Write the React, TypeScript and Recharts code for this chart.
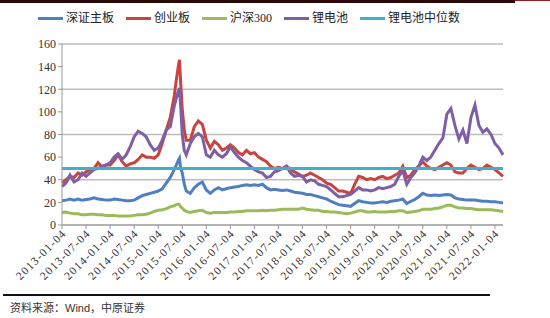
import { CartesianGrid, Line, LineChart, ReferenceLine, XAxis, YAxis } from 'recharts';

// 交易日（月度采样，2015年股灾前后加密）
const dates = [
  '2013-01-04', '2013-02-04', '2013-03-04', '2013-04-04', '2013-05-04', '2013-06-04',
  '2013-07-04', '2013-08-04', '2013-09-04', '2013-10-04', '2013-11-04', '2013-12-04',
  '2014-01-04', '2014-02-04', '2014-03-04', '2014-04-04', '2014-05-04', '2014-06-04',
  '2014-07-04', '2014-08-04', '2014-09-04', '2014-10-04', '2014-11-04', '2014-12-04',
  '2015-01-04', '2015-02-04', '2015-03-04', '2015-04-04', '2015-05-04', '2015-05-19',
  '2015-06-04', '2015-06-13', '2015-06-22', '2015-07-04', '2015-07-19', '2015-08-04',
  '2015-09-04', '2015-10-04', '2015-11-04', '2015-12-04',
  '2016-01-04', '2016-02-04', '2016-03-04', '2016-04-04', '2016-05-04', '2016-06-04',
  '2016-07-04', '2016-08-04', '2016-09-04', '2016-10-04', '2016-11-04', '2016-12-04',
  '2017-01-04', '2017-02-04', '2017-03-04', '2017-04-04', '2017-05-04', '2017-06-04',
  '2017-07-04', '2017-08-04', '2017-09-04', '2017-10-04', '2017-11-04', '2017-12-04',
  '2018-01-04', '2018-02-04', '2018-03-04', '2018-04-04', '2018-05-04', '2018-06-04',
  '2018-07-04', '2018-08-04', '2018-09-04', '2018-10-04', '2018-11-04', '2018-12-04',
  '2019-01-04', '2019-02-04', '2019-03-04', '2019-04-04', '2019-05-04', '2019-06-04',
  '2019-07-04', '2019-08-04', '2019-09-04', '2019-10-04', '2019-11-04', '2019-12-04',
  '2020-01-04', '2020-02-04', '2020-03-04', '2020-04-04', '2020-05-04', '2020-06-04',
  '2020-07-04', '2020-08-04', '2020-09-04', '2020-10-04', '2020-11-04', '2020-12-04',
  '2021-01-04', '2021-02-04', '2021-03-04', '2021-04-04', '2021-05-04', '2021-06-04',
  '2021-07-04', '2021-08-04', '2021-09-04', '2021-10-04', '2021-11-04', '2021-12-04',
  '2022-01-04', '2022-02-04', '2022-03-04',
];

const shenzhenMain = [
  21.5, 22, 23, 22, 23, 22, 22.5, 23, 24, 23, 22.5, 22,
  22, 23, 22.5, 22, 21.5, 21.5, 22, 24, 26, 27, 28, 29,
  30, 32, 37, 42, 49, 53, 57, 59, 50, 46, 36, 30, 28, 33, 36, 38,
  31, 28, 31, 33, 31, 32, 33, 33.5, 34, 35, 35.5, 35,
  35.5, 35, 36, 33, 31, 31.5, 31, 30.5, 31, 30, 29, 28.5,
  28, 27, 27, 26, 25, 24, 23, 21, 19.5, 18, 17.5, 17,
  16.5, 19, 21.5, 20.5, 20, 19.5, 19.5, 20, 20.5, 20, 21, 21.5,
  22, 23, 19, 21, 22.5, 25, 28, 26.5, 26, 26.5, 26, 26.5,
  27, 26.5, 24, 23, 22.5, 22, 22, 22, 21.5, 21, 21, 20.5,
  20.5, 20, 19.5,
];

const chinext = [
  37, 40, 43, 42, 46, 44, 47, 49, 50, 55, 51, 53,
  53, 57, 62, 56, 52, 54, 55, 58, 62, 60, 60, 59,
  62, 72, 84, 95, 114, 128, 140, 146, 126, 102, 84, 75, 75, 87, 92, 89,
  75, 68, 74, 71, 66, 68, 71, 68, 64, 62, 66, 63,
  64, 60, 58, 56, 52, 50, 51, 50, 52, 49, 47, 45,
  43, 44, 46, 44, 42, 40, 37, 36, 33, 30, 30, 29,
  28, 36, 43, 42, 40, 41, 40, 42, 43, 41, 42, 44,
  46, 52, 42, 44, 49, 52, 56, 52, 50, 49, 51, 53,
  55, 53, 47, 46, 46, 50, 53, 51, 49, 50, 53, 51,
  49, 46, 43,
];

const csi300 = [
  11, 11.5, 10.5, 10, 10, 9, 9, 9.5, 9.5, 9, 9, 8.5,
  8.5, 8.5, 8, 8, 8, 8, 8.5, 9, 9, 9.5, 10.5, 12,
  13, 13.5, 14.5, 16, 17, 18, 18.5, 18, 16, 15, 13, 12, 11, 12, 12.5, 13,
  11, 10.5, 11, 11, 11, 11, 11.5, 11.5, 12, 12, 12.5, 12.5,
  12.5, 12.5, 13, 12.5, 13, 13, 13.5, 14, 14, 14, 14, 14,
  15, 14, 13.5, 13, 13, 12, 12, 11.5, 11.5, 11, 10.5, 10,
  10.5, 11.5, 12.5, 12.5, 11.5, 11.5, 12, 11.5, 11.5, 11.5, 12, 12,
  12.5, 12.5, 11, 11.5, 12, 12.5, 14, 14, 14, 14.5, 15, 16,
  17.5, 17.5, 16, 15, 15, 14.5, 14.5, 14, 13.5, 13.5, 13.5, 13.5,
  13, 12.5, 12,
];

const lithium = [
  34, 37, 44, 38, 40, 46, 43, 46, 49, 50, 52, 53,
  55, 60, 63, 58, 62, 69, 78, 83, 81, 78, 71, 66,
  68, 75, 84, 87, 105, 112, 118, 121, 105, 80, 66, 62, 72, 78, 81, 78,
  62, 60, 66, 62, 60, 63, 69, 64, 60, 57, 55, 52,
  49, 47, 46, 42, 43, 47, 48, 50, 52, 46, 43, 44,
  43, 38, 40, 39, 36, 35, 34, 31, 28, 25, 25, 26,
  27, 30, 33, 31, 31, 30, 31, 33, 32, 33, 34, 36,
  43, 48, 36, 42, 46, 52, 60, 57, 60, 66, 72, 77,
  98, 103, 88, 76, 84, 72, 95, 106, 88, 82, 85, 80,
  72, 68, 62,
];

const lithiumMedian = 50;

const tickDates = [
  '2013-01-04', '2013-07-04', '2014-01-04', '2014-07-04', '2015-01-04', '2015-07-04',
  '2016-01-04', '2016-07-04', '2017-01-04', '2017-07-04', '2018-01-04', '2018-07-04',
  '2019-01-04', '2019-07-04', '2020-01-04', '2020-07-04', '2021-01-04', '2021-07-04',
  '2022-01-04',
];

const yTicks = [0, 20, 40, 60, 80, 100, 120, 140, 160];

const SERIES = [
  { key: 'shenzhenMain', name: '深证主板', color: '#4F7FC0' },
  { key: 'chinext', name: '创业板', color: '#C8443F' },
  { key: 'csi300', name: '沪深300', color: '#9BBB59' },
  { key: 'lithium', name: '锂电池', color: '#7E5FA6' },
];
const MEDIAN_COLOR = '#3FB0CC';

// 以2013-01为0的月份序号
const toMonth = (d: string) => {
  const [y, m, day] = d.split('-').map(Number);
  return (y - 2013) * 12 + (m - 1) + (day - 4) / 30;
};

const data = dates.map((d, i) => ({
  x: toMonth(d),
  shenzhenMain: shenzhenMain[i],
  chinext: chinext[i],
  csi300: csi300[i],
  lithium: lithium[i],
}));

const xTicks = tickDates.map(toMonth);

const SERIF = '"Liberation Serif", "Times New Roman", serif';
const CJK = '"Liberation Serif", "Noto Sans CJK SC", sans-serif';
const SANS = '"Liberation Sans", "Noto Sans CJK SC", sans-serif';

function DateTick({ x, y, index }: any) {
  return (
    <g transform={`translate(${x + 5},${y + 3})`}>
      <text
        x={0}
        y={0}
        textAnchor="end"
        transform="rotate(-45)"
        fontSize={11.5}
        fontFamily={SERIF}
        letterSpacing={1.2}
        fill="#333"
      >
        {tickDates[index]}
      </text>
    </g>
  );
}

function ChartLegend() {
  const items = [...SERIES, { key: 'median', name: '锂电池中位数', color: MEDIAN_COLOR }];
  return (
    <div
      style={{
        position: 'absolute',
        top: 10,
        left: 38,
        display: 'flex',
        gap: 12,
        fontFamily: CJK,
        fontSize: 12,
        lineHeight: '16px',
        color: '#222',
      }}
    >
      {items.map((s) => (
        <div
          key={s.key}
          style={{ display: 'flex', alignItems: 'center', gap: 3 }}
        >
          <span style={{ display: 'inline-block', width: 25, height: 3, background: s.color }} />
          <span>{s.name}</span>
        </div>
      ))}
    </div>
  );
}

export default function App() {
  return (
    <div style={{ position: 'relative', width: 550, height: 318, background: '#fff', overflow: 'hidden' }}>
      <style>{'body{margin:0}'}</style>
      <div style={{ position: 'absolute', left: 0, top: 0, width: 515, height: 3, background: '#2a0808' }} />
      <div style={{ position: 'absolute', left: 515, top: 0, width: 35, height: 1, background: '#9a1c1c' }} />
      <ChartLegend />
      <LineChart
        width={550}
        height={300}
        data={data}
        margin={{ top: 44, right: 47, bottom: 5, left: 0 }}
      >
        <CartesianGrid
          vertical={false}
          stroke="#BDBDBD"
          strokeWidth={1.5}
        />
        <XAxis
          dataKey="x"
          type="number"
          domain={[0, 110]}
          ticks={xTicks}
          interval={0}
          tick={<DateTick />}
          tickSize={4}
          height={70}
          stroke="#999"
        />
        <YAxis
          type="number"
          domain={[0, 160]}
          ticks={yTicks}
          width={62}
          tickSize={4}
          tick={{ fontSize: 12, fontFamily: SERIF, fill: '#333' }}
          stroke="#999"
        />
        {SERIES.map((s) => (
          <Line
            key={s.key}
            dataKey={s.key}
            name={s.name}
            stroke={s.color}
            strokeWidth={3}
            dot={false}
            isAnimationActive={false}
          />
        ))}
        <ReferenceLine
          y={lithiumMedian}
          stroke={MEDIAN_COLOR}
          strokeWidth={3}
        />
      </LineChart>
      <div style={{ position: 'absolute', left: 3, top: 294, width: 487, height: 2, background: '#111' }} />
      <div style={{ position: 'absolute', left: 10, top: 299, fontFamily: SANS, fontSize: 11, color: '#333' }}>
        资料来源：Wind，中原证券
      </div>
    </div>
  );
}
